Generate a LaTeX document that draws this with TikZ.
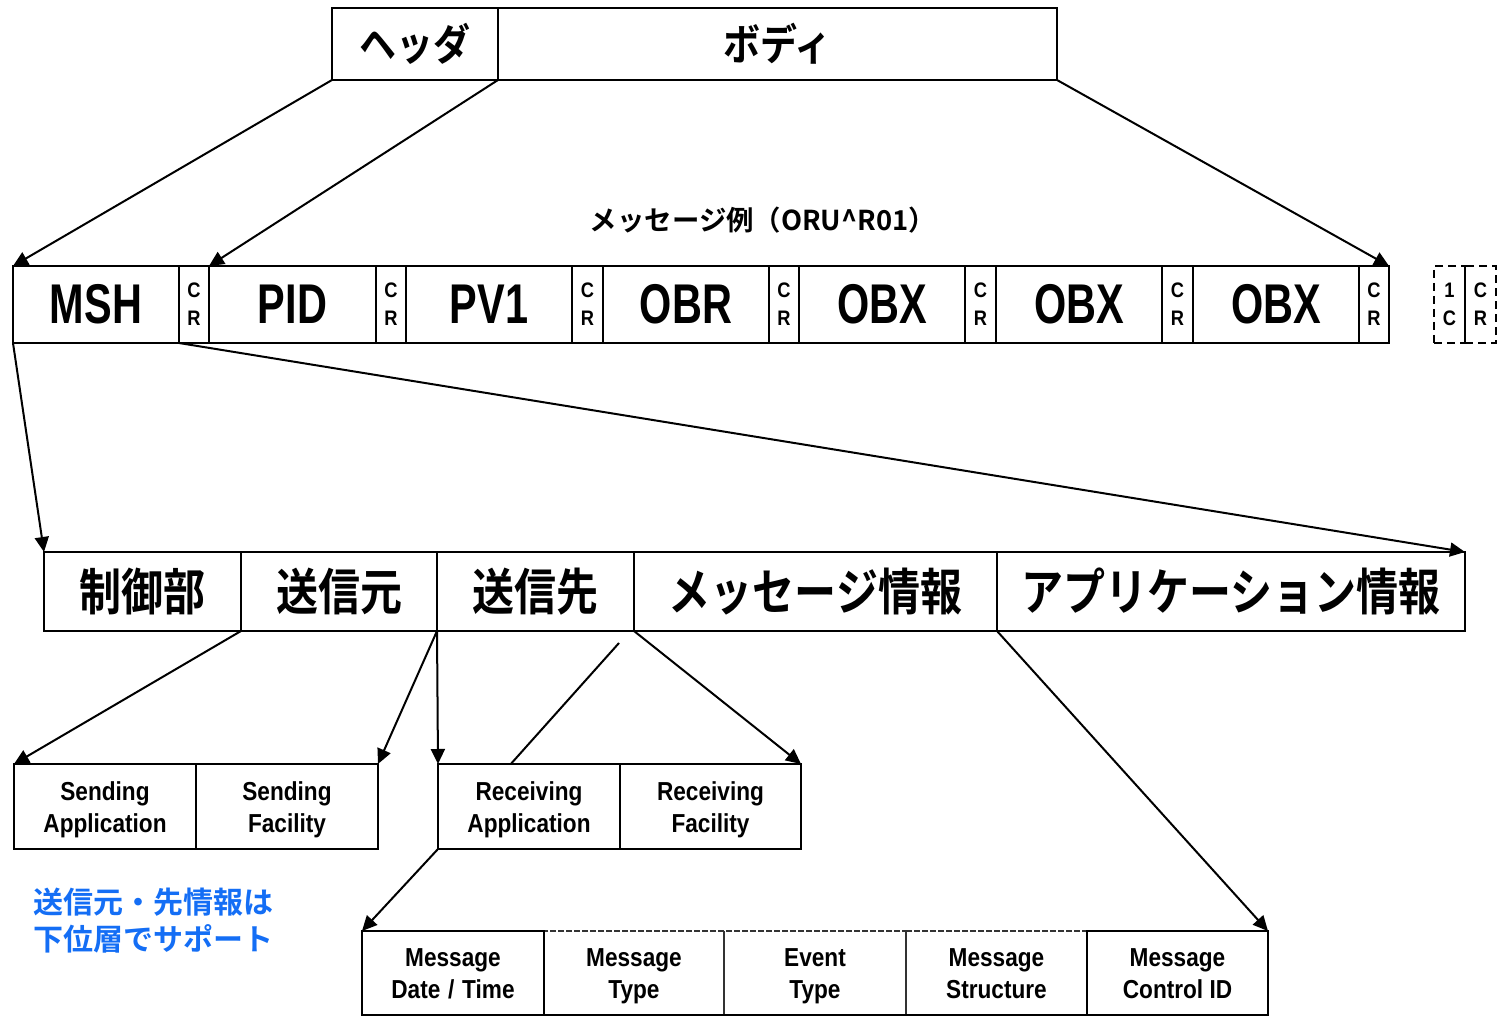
\documentclass[tikz,border=0pt]{standalone}
\usepackage{fontspec}
\usetikzlibrary{arrows.meta,calc}
\newfontfamily\jpf{Noto Sans CJK JP Bold}[FakeStretch=0.84]
\newfontfamily\jph{Noto Sans CJK JP Bold}[FakeStretch=0.86]
\newfontfamily\jpn{Noto Sans CJK JP Bold}
\newfontfamily\latbig{Liberation Sans Bold}[FakeStretch=0.74]
\newfontfamily\latsm{Liberation Sans Bold}[FakeStretch=0.87]
\definecolor{noteblue}{RGB}{20,110,245}

\tikzset{
  cellbox/.style={draw, line width=1pt, inner sep=0pt, outer sep=0pt, align=center},
  seg/.style={font=\latbig\fontsize{28}{30}\selectfont},
  crbox/.style={font=\latsm\fontsize{10.5}{14}\selectfont},
  part/.style={font=\jph\fontsize{21.5}{24}\selectfont},
  group/.style={font=\jpf\fontsize{25}{27}\selectfont},
  field/.style={font=\latsm\fontsize{13}{16}\selectfont},
  ghost/.style={dash pattern=on 4pt off 2.5pt, line width=0.8pt},
  faint/.style={dash pattern=on 3pt off 1pt, line width=0.6pt, draw=black!80},
  arr/.style={line width=1pt, -{Triangle[length=7.5pt,width=7pt]}},
  link/.style={line width=1pt},
}

% \cell[style]{name}{x1}{y1}{x2}{y2}{text}: box spanning two corners
\newcommand\cell[7][]{\node[cellbox,#1,minimum width={(#5-#3)*0.5pt},minimum height={(#6-#4)*0.5pt}] (#2) at ({(#3+#5)/2},{(#4+#6)/2}) {#7};}
% two-line field label, centred on the capital letters
\newcommand\twoline[2]{\rule{0pt}{9.6pt}\smash{#1}\\\rule{0pt}{9.6pt}\smash{#2}}
\newcommand\wslash{\hspace{0.3em}/\hspace{0.3em}}

\begin{document}
\begin{tikzpicture}[x=0.5pt,y=-0.5pt]
\useasboundingbox (0,0) rectangle (1499,1016);

% header / body
\cell[part]{hdr}{332}{8}{498}{80}{ヘッダ}
\cell[part]{body}{498}{8}{1057}{80}{ボディ}

\node[font=\jpn\fontsize{13.7}{16}\selectfont] (title) at (763,220) {メッセージ例（ORU\textasciicircum R01）};

% message segments
\cell[seg]{msh}{13}{266}{179}{343}{MSH}
\cell[crbox]{cr1}{179}{266}{209}{343}{C\\R}
\cell[seg]{pid}{209}{266}{376}{343}{PID}
\cell[crbox]{cr2}{376}{266}{406}{343}{C\\R}
\cell[seg]{pv}{406}{266}{572}{343}{PV1}
\cell[crbox]{cr3}{572}{266}{603}{343}{C\\R}
\cell[seg]{obr}{603}{266}{769}{343}{OBR}
\cell[crbox]{cr4}{769}{266}{799}{343}{C\\R}
\cell[seg]{obxa}{799}{266}{965}{343}{OBX}
\cell[crbox]{cr5}{965}{266}{996}{343}{C\\R}
\cell[seg]{obxb}{996}{266}{1162}{343}{OBX}
\cell[crbox]{cr6}{1162}{266}{1193}{343}{C\\R}
\cell[seg]{obxc}{1193}{266}{1359}{343}{OBX}
\cell[crbox]{cr7}{1359}{266}{1389}{343}{C\\R}
\cell[crbox,ghost]{ext1}{1434}{266}{1465}{343}{1\\C}
\cell[crbox,ghost]{ext2}{1465}{266}{1496}{343}{C\\R}

% MSH groups
\cell[group]{ctl}{44}{552}{241}{631}{制御部}
\cell[group]{src}{241}{552}{437}{631}{送信元}
\cell[group]{dst}{437}{552}{634}{631}{送信先}
\cell[group]{msg}{634}{552}{997}{631}{メッセージ情報}
\cell[group]{app}{997}{552}{1465}{631}{アプリケーション情報}

% sender / receiver fields
\cell[field]{sapp}{14}{764}{196}{849}{\twoline{Sending}{Application}}
\cell[field]{sfac}{196}{764}{378}{849}{\twoline{Sending}{Facility}}
\cell[field]{rapp}{438}{764}{620}{849}{\twoline{Receiving}{Application}}
\cell[field]{rfac}{620}{764}{801}{849}{\twoline{Receiving}{Facility}}

% message information fields
\cell[field,faint]{mty}{544}{931}{724}{1015}{\twoline{Message}{Type}}
\cell[field,faint]{evt}{724}{931}{906}{1015}{\twoline{Event}{Type}}
\cell[field,faint]{mst}{906}{931}{1087}{1015}{\twoline{Message}{Structure}}
\cell[field]{mdt}{362}{931}{544}{1015}{\twoline{Message}{Date\wslash Time}}
\cell[field]{mcid}{1087}{931}{1268}{1015}{\twoline{Message}{Control ID}}
\draw[link] (mdt.south east) -- (mcid.south west);

\node[font=\jpn\fontsize{15}{18.5}\selectfont, text=noteblue, align=left, anchor=west, inner sep=0pt] (note) at (33,921) {送信元・先情報は\\下位層でサポート};

% connectors
\draw[arr] (hdr.south west) -- (msh.north west);
\draw[arr] (hdr.south east) -- (pid.north west);
\draw[arr] (body.south east) -- (cr7.north east);
\draw[arr] (msh.south west) -- (ctl.north west);
\draw[arr] (cr1.south west) -- (app.north east);
\draw[arr] (src.south west) -- (sapp.north west);
\draw[arr] (dst.south west) -- (sfac.north east);
\draw[arr] (dst.south west) -- (rapp.north west);
\coordinate (rsrc) at (619,643);
\draw[link] (rsrc) -- ($(rapp.north west)!0.4!(rapp.north east)$);
\draw[arr] (msg.south west) -- (rfac.north east);
\draw[arr] (rapp.south west) -- (mdt.north west);
\draw[arr] (app.south west) -- (mcid.north east);
\end{tikzpicture}
\end{document}
